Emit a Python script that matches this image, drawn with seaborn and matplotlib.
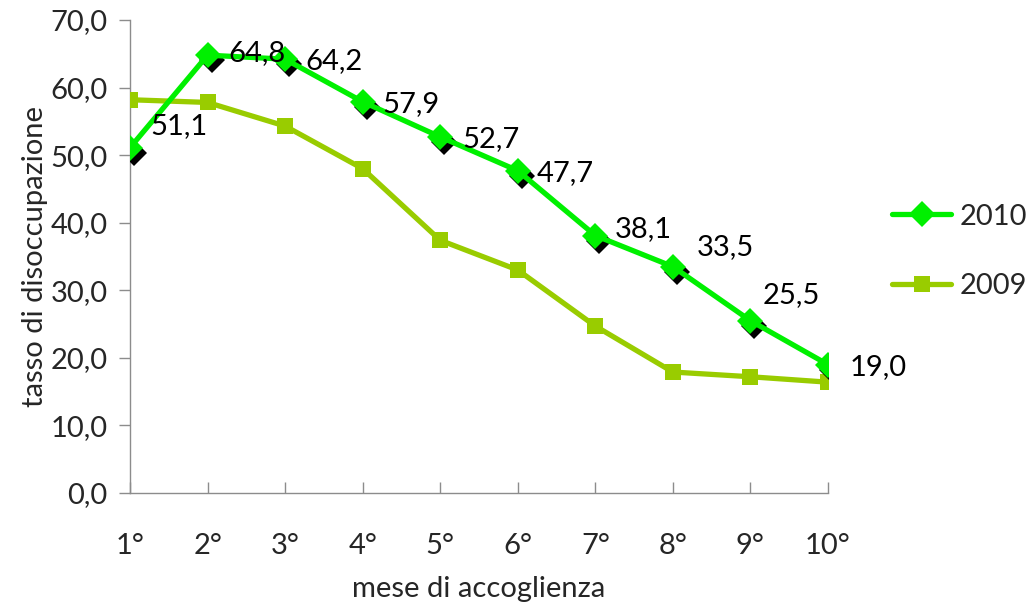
import matplotlib
matplotlib.use("Agg")
import matplotlib.pyplot as plt
import matplotlib.transforms as mtransforms
from matplotlib.lines import Line2D
import seaborn as sns
import pandas as pd

# Data
months = ["1°", "2°", "3°", "4°", "5°", "6°", "7°", "8°", "9°", "10°"]
rate_2010 = [51.1, 64.8, 64.2, 57.9, 52.7, 47.7, 38.1, 33.5, 25.5, 19.0]
rate_2009 = [58.2, 57.8, 54.3, 48.0, 37.4, 33.0, 24.7, 17.9, 17.2, 16.4]
y_ticks = [0, 10, 20, 30, 40, 50, 60, 70]

# Label offsets (pixels) for the 2010 value labels
label_offsets = [(20, 22), (21, 2), (20, -2), (20, -2), (22, -2), (19, -2),
                 (19, 6), (24, 20), (12, 26), (22, -2)]

GREEN_2010 = "#00F000"
GREEN_2009 = "#99CC00"
FS = 21

sns.set_theme(style="white")
plt.rcParams["font.family"] = ["Lato", "DejaVu Sans"]

fig = plt.figure(figsize=(10.27, 6.06), dpi=100)
ax = fig.add_axes([0.1266, 0.1865, 0.8062 - 0.1266, 0.967 - 0.1865])

df = pd.DataFrame({"mese": months * 2,
                   "tasso": rate_2009 + rate_2010,
                   "anno": ["2009"] * len(months) + ["2010"] * len(months)})

# 2009 series
sns.lineplot(data=df[df["anno"] == "2009"], x="mese", y="tasso", ax=ax,
             color=GREEN_2009, linewidth=3.8, marker="s", markersize=11,
             markeredgewidth=0, sort=False, zorder=3, legend=False)

# Shadow under the 2010 markers
shadow = mtransforms.offset_copy(ax.transData, fig=fig, x=4, y=-5, units="dots")
ax.plot(months, rate_2010, linestyle="none", marker="D", markersize=13,
        color="black", markeredgewidth=0, transform=shadow, zorder=4)

# 2010 series
sns.lineplot(data=df[df["anno"] == "2010"], x="mese", y="tasso", ax=ax,
             color=GREEN_2010, linewidth=3.8, marker="D", markersize=13,
             markeredgewidth=0, sort=False, zorder=5, legend=False)

for i, (m, v) in enumerate(zip(months, rate_2010)):
    dx, dy = label_offsets[i]
    ax.annotate(f"{v:.1f}".replace(".", ","), xy=(m, v), xytext=(dx, dy),
                textcoords="offset pixels", ha="left", va="center",
                fontsize=FS, color="black", zorder=6)

ax.set_xlim(0, len(months) - 1)
ax.set_ylim(0, 70)
ax.set_yticks(y_ticks)
ax.set_yticklabels([f"{t:.1f}".replace(".", ",") for t in y_ticks])

for side in ["top", "right"]:
    ax.spines[side].set_visible(False)
for side in ["left", "bottom"]:
    ax.spines[side].set_color("#8C8C8C")
    ax.spines[side].set_linewidth(1.0)

ax.tick_params(axis="y", which="major", direction="out", length=8, width=1,
               color="#8C8C8C", labelsize=FS, pad=8, left=True)
ax.tick_params(axis="x", which="major", direction="in", length=8, width=1,
               color="#8C8C8C", labelsize=FS, pad=29, bottom=True)
ax.grid(False)

ax.set_xlabel("mese di accoglienza", fontsize=FS, labelpad=12)
ax.set_ylabel("tasso di disoccupazione", fontsize=FS, labelpad=2)

handles = [
    Line2D([], [], color=GREEN_2010, linewidth=3.8, marker="D", markersize=13,
           markeredgewidth=0),
    Line2D([], [], color=GREEN_2009, linewidth=3.8, marker="s", markersize=11,
           markeredgewidth=0),
]
fig.legend(handles, ["2010", "2009"], loc="center left",
           bbox_to_anchor=(0.869, 0.585), frameon=False, fontsize=FS,
           handlelength=2.0, handletextpad=0.3, labelspacing=1.5,
           borderaxespad=0, borderpad=0)

fig.savefig("out.png", dpi=100)
